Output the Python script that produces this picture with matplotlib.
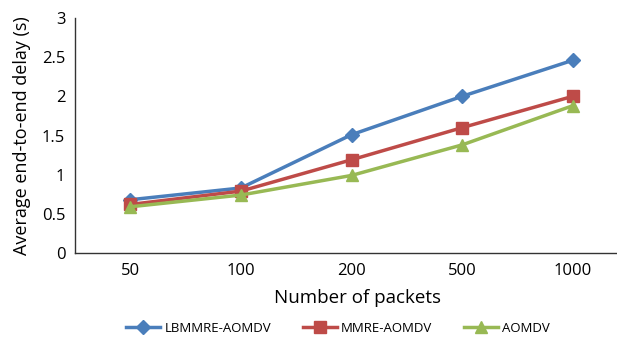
import matplotlib
matplotlib.use("Agg")
import matplotlib.pyplot as plt
import numpy as np

plt.rcParams.update({
    "font.family": ["Open Sans", "DejaVu Sans"],
    "font.size": 11,
})

packets = ["50", "100", "200", "500", "1000"]
lbmmre = [0.68, 0.83, 1.51, 2.00, 2.46]
mmre = [0.62, 0.79, 1.19, 1.60, 2.00]
aomdv = [0.59, 0.74, 0.99, 1.38, 1.88]

W, H = 617, 340
fig = plt.figure(figsize=(W / 100, H / 100), dpi=100)
ax = fig.add_axes([75 / W, 1 - 253 / H, 553 / W, 235 / H])

x = np.arange(len(packets))
ax.plot(x, lbmmre, "-D", color="#4A7EBB", lw=2.5, ms=7, label="LBMMRE-AOMDV")
ax.plot(x, mmre, "-s", color="#BE4B48", lw=2.5, ms=9, label="MMRE-AOMDV")
ax.plot(x, aomdv, "-^", color="#98B954", lw=2.5, ms=9, label="AOMDV")

ax.set_xlim(-0.5, 4.5)
ax.set_ylim(0, 3)
ax.set_xticks(x)
ax.set_xticklabels(packets)
ax.set_yticks([0, 0.5, 1, 1.5, 2, 2.5, 3])
ax.set_yticklabels(["0", "0.5", "1", "1.5", "2", "2.5", "3"])
ax.tick_params(length=0, labelsize=12, pad=7)
for side in ["top", "right"]:
    ax.spines[side].set_visible(False)
for side in ["left", "bottom"]:
    ax.spines[side].set_color("#333333")
    ax.spines[side].set_linewidth(1)

ax.set_ylabel("Average end-to-end delay (s)", fontsize=13, labelpad=8)
fig.text(358 / W, 1 - 298 / H, "Number of packets", fontsize=13.5,
         ha="center", va="center")

fig.legend(loc="center", bbox_to_anchor=(338 / W, 1 - 328 / H), ncol=3,
           frameon=False, fontsize=9.5, handlelength=2.6, handletextpad=0.3,
           columnspacing=2.4, borderaxespad=0)

fig.savefig("out.png", dpi=100)
